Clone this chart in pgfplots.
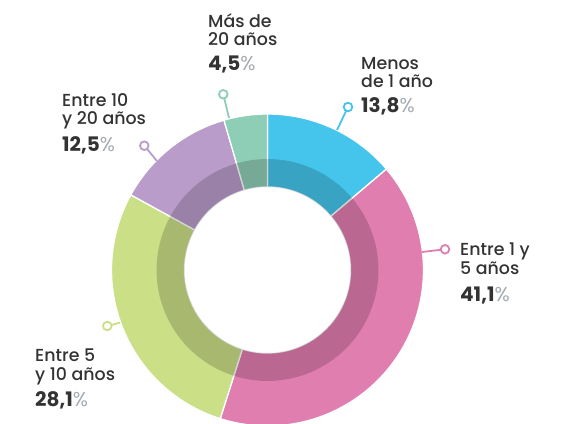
\documentclass[border=0pt]{standalone}
\usepackage{pgfplots}
\usepackage{pgfplotstable}
\pgfplotsset{compat=1.18}
\usepackage{fontspec}
\setmainfont{Poppins}[UprightFont={* Medium}, BoldFont={* Bold}]
\newfontfamily\pctfont{Poppins}
\definecolor{cyanc}{HTML}{45C5EC}
\definecolor{pinkc}{HTML}{E07EB0}
\definecolor{greenc}{HTML}{CBDF86}
\definecolor{purplec}{HTML}{B99CC9}
\definecolor{tealc}{HTML}{8ECDB6}
\definecolor{txt}{HTML}{333333}
\definecolor{pctgray}{HTML}{A3ABB2}
\pgfplotstableread{
cat pct
menos1 13.8
uno5 41.1
cinco10 28.1
diez20 12.5
mas20 4.5
}\datatab
\newcommand\cx{267.5}
\newcommand\cy{153}
\newcommand\ringslice[5]{%
\addplot[fill=#1, draw=white, line width=1.3pt, domain=0:2, samples=121, variable=\t]
({\cx + (\t<1.01 ? #4 : #5)*cos(\t<1.01 ? #2+(#3-#2)*min(\t,1) : #3-(#3-#2)*max(\t-1.02,0)/0.98)},
 {\cy + (\t<1.01 ? #4 : #5)*sin(\t<1.01 ? #2+(#3-#2)*min(\t,1) : #3-(#3-#2)*max(\t-1.02,0)/0.98)}) -- cycle;}
\newcommand\txtA{\fontsize{17.4}{18}\selectfont\color{txt}}
\newcommand\pctA[1]{{\fontsize{20}{20}\selectfont\color{txt}\bfseries #1}{\fontsize{20}{20}\selectfont\pctfont\color{pctgray}\%}}
\begin{document}
\begin{tikzpicture}
\pgfplotstablegetelem{0}{pct}\of\datatab \let\pA\pgfplotsretval
\pgfplotstablegetelem{1}{pct}\of\datatab \let\pB\pgfplotsretval
\pgfplotstablegetelem{2}{pct}\of\datatab \let\pC\pgfplotsretval
\pgfplotstablegetelem{3}{pct}\of\datatab \let\pD\pgfplotsretval
\pgfplotstablegetelem{4}{pct}\of\datatab \let\pE\pgfplotsretval
\pgfmathsetmacro\aA{90}
\pgfmathsetmacro\aB{\aA-3.6*\pA}
\pgfmathsetmacro\aC{\aB-3.6*\pB}
\pgfmathsetmacro\aD{\aC-3.6*\pC}
\pgfmathsetmacro\aE{\aD-3.6*\pD}
\pgfmathsetmacro\aF{\aE-3.6*\pE}
\begin{axis}[
  width=580pt, height=423pt, scale only axis,
  xmin=0, xmax=580, ymin=0, ymax=423,
  axis lines=none, clip=true,
]
\ringslice{cyanc}{\aA}{\aB}{156}{83}
\ringslice{pinkc}{\aB}{\aC}{156}{83}
\ringslice{greenc}{\aC}{\aD}{156}{83}
\ringslice{purplec}{\aD}{\aE}{156}{83}
\ringslice{tealc}{\aE}{\aF}{156}{83}
\addplot[fill=black, fill opacity=0.17, draw=none, domain=0:2, samples=181, variable=\t]
({\cx + (\t<1.01 ? 111 : 83)*cos(\t<1.01 ? 90-360*min(\t,1) : -270+360*max(\t-1.02,0)/0.98)},
 {\cy + (\t<1.01 ? 111 : 83)*sin(\t<1.01 ? 90-360*min(\t,1) : -270+360*max(\t-1.02,0)/0.98)}) -- cycle;
% callouts
\addplot[tealc, line width=1.8pt, mark=*, mark size=4.3pt, mark options={fill=white, line width=1.8pt}, mark indices={1}] coordinates {(223.3,328.7) (229,305)};
\addplot[cyanc, line width=1.8pt, mark=*, mark size=4.3pt, mark options={fill=white, line width=1.8pt}, mark indices={1}] coordinates {(348,316) (337,293)};
\addplot[purplec, line width=1.8pt, mark=*, mark size=4.3pt, mark options={fill=white, line width=1.8pt}, mark indices={1}] coordinates {(144.3,277.3) (157,262)};
\addplot[pinkc, line width=1.8pt, mark=*, mark size=4.3pt, mark options={fill=white, line width=1.8pt}, mark indices={1}] coordinates {(445,173.7) (422,171)};
\addplot[greenc, line width=1.8pt, mark=*, mark size=4.3pt, mark options={fill=white, line width=1.8pt}, mark indices={1}] coordinates {(107.3,97) (120,100.3)};
% labels
\node[anchor=base west, inner sep=0] at (axis cs:208,395.7) {\txtA Más de};
\node[anchor=base west, inner sep=0] at (axis cs:208,377.3) {\txtA 20 años};
\node[anchor=base west, inner sep=0] at (axis cs:208,352) {\pctA{4,5}};
\node[anchor=base west, inner sep=0] at (axis cs:361,353) {\txtA Menos};
\node[anchor=base west, inner sep=0] at (axis cs:361,335) {\txtA de 1 año};
\node[anchor=base west, inner sep=0] at (axis cs:361,310) {\pctA{13,8}};
\node[anchor=base west, inner sep=0] at (axis cs:62,316.3) {\txtA Entre 10};
\node[anchor=base west, inner sep=0] at (axis cs:62,298) {\txtA y 20 años};
\node[anchor=base west, inner sep=0] at (axis cs:62,271.3) {\pctA{12,5}};
\node[anchor=base west, inner sep=0] at (axis cs:460,167) {\txtA Entre 1 y};
\node[anchor=base west, inner sep=0] at (axis cs:460,148.7) {\txtA 5 años};
\node[anchor=base west, inner sep=0] at (axis cs:460,122) {\pctA{41,1}};
\node[anchor=base west, inner sep=0] at (axis cs:35,61.3) {\txtA Entre 5};
\node[anchor=base west, inner sep=0] at (axis cs:35,43) {\txtA y 10 años};
\node[anchor=base west, inner sep=0] at (axis cs:35,17) {\pctA{28,1}};
\end{axis}
\pgfresetboundingbox
\path (0,0) rectangle (580pt,423pt);
\end{tikzpicture}
\end{document}
